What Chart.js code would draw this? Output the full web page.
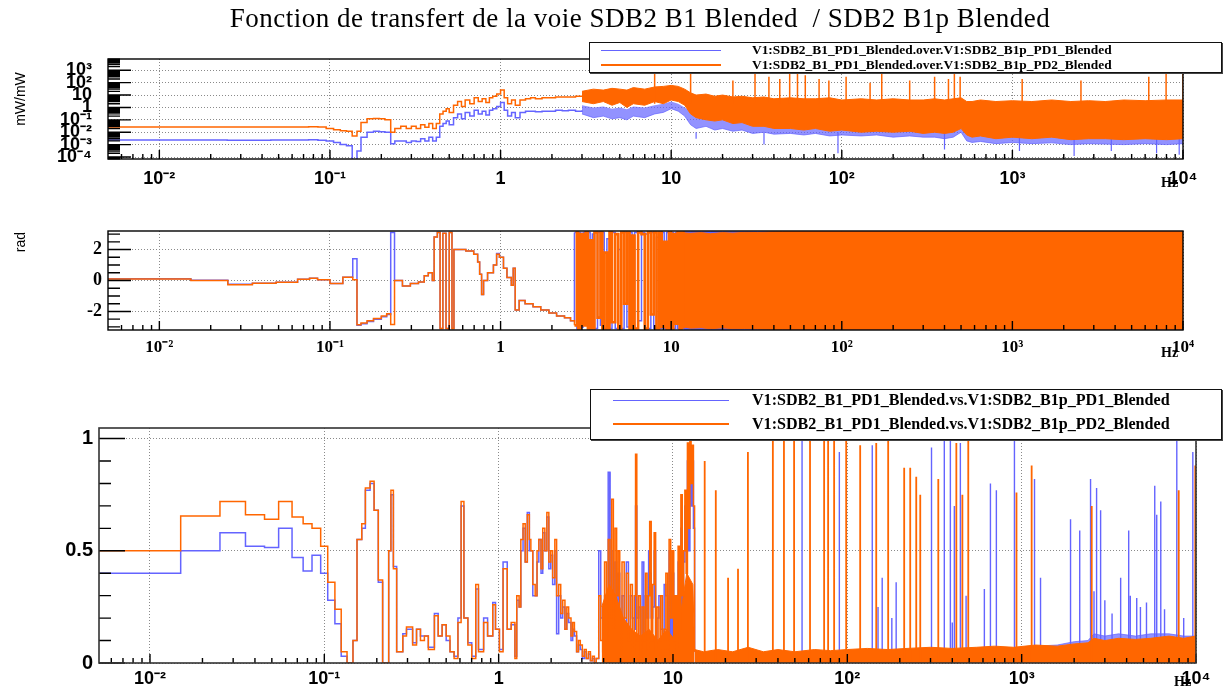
<!DOCTYPE html>
<html lang="fr">
<head>
<meta charset="utf-8">
<title>Fonction de transfert SDB2 B1 / SDB2 B1p</title>
<script src="https://cdn.jsdelivr.net/npm/chart.js@4.4.1/dist/chart.umd.min.js"></script>
<style>
  body { margin: 0; background: #fff; }
  #page { position: relative; width: 1225px; height: 698px; overflow: hidden; background: #fff; }
  canvas { position: absolute; left: 0; }
  .txt { position: absolute; white-space: pre; color: #000; }
  #titre { left: 0; top: 3px; width: 1280px; text-align: center; font: 27px "Liberation Serif", "DejaVu Serif", serif; letter-spacing: 0.5px; }
  .ytitre { width: 70px; height: 16px; line-height: 16px; text-align: center; font: 14px "Liberation Sans", Arial, sans-serif; transform: rotate(-90deg); }
  .hz { font: bold 14px "Liberation Serif", serif; }
  .legende { position: absolute; background: #fff; border: 1px solid #111; box-shadow: 1px 1px 0 #444; box-sizing: border-box; }
  .legende .trait { position: absolute; height: 0; }
  .legende .lbl { position: absolute; font-family: "Liberation Serif", serif; font-weight: bold; white-space: pre; }
</style>
</head>
<body>
<div id="page">
  <canvas id="gMag" width="1225" height="200" style="top:0"></canvas>
  <canvas id="gPhase" width="1225" height="170" style="top:200px"></canvas>
  <canvas id="gCoh" width="1225" height="328" style="top:370px"></canvas>
  <div id="titre" class="txt">Fonction de transfert de la voie SDB2 B1 Blended  / SDB2 B1p Blended</div>
  <div class="txt ytitre" style="left:-15px; top:91px">mW/mW</div>
  <div class="txt ytitre" style="left:-15px; top:234px">rad</div>
  <div class="txt hz" style="left:1161px; top:175px">Hz</div>
  <div class="txt hz" style="left:1161px; top:345px">Hz</div>
  <div class="txt hz" style="left:1174px; top:674px">Hz</div>
  <div id="leg1" class="legende" style="left:589px; top:42px; width:633px; height:31px"></div>
  <div id="leg3" class="legende" style="left:590px; top:389px; width:632px; height:51px"></div>
</div>

<script>
// ==========================================================
// DONNÉES
// ==========================================================

const bleu = '#6464ff';
const bleuVoile = 'rgba(100, 100, 255, 0.7)';
const orange = '#ff6600';

const magSeriesNames = ['V1:SDB2_B1_PD1_Blended.over.V1:SDB2_B1p_PD1_Blended', 'V1:SDB2_B1_PD1_Blended.over.V1:SDB2_B1p_PD2_Blended'];
const cohSeriesNames = ['V1:SDB2_B1_PD1_Blended.vs.V1:SDB2_B1p_PD1_Blended', 'V1:SDB2_B1_PD1_Blended.vs.V1:SDB2_B1p_PD2_Blended'];

const xTickVals = [0.01, 0.1, 1, 10, 100, 1000, 10000];
const xTickLabels = ['10⁻²', '10⁻¹', '1', '10', '10²', '10³', '10⁴'];
const magTickVals = [1e-4, 1e-3, 1e-2, 1e-1, 1, 10, 100, 1000];
const magTickLabels = ['10⁻⁴', '10⁻³', '10⁻²', '10⁻¹', '1', '10', '10²', '10³'];
const phaseTickVals = [-2, 0, 2];
const phaseTickLabels = ['-2', '0', '2'];
const cohTickVals = [0, 0.5, 1];
const cohTickLabels = ['0', '0.5', '1'];

// --- module (mW/mW), partie basse fréquence (valeur tenue jusqu'au point suivant)
const magLowFreq = [0.005, 0.015, 0.025, 0.035, 0.045, 0.055, 0.065, 0.075, 0.085, 0.095, 0.105, 0.115, 0.125, 0.135, 0.144, 0.152, 0.165, 0.18, 0.195, 0.21, 0.227, 0.24, 0.26, 0.28, 0.30, 0.32, 0.34, 0.36, 0.38, 0.40, 0.42, 0.44, 0.46, 0.48, 0.50, 0.53, 0.56, 0.59, 0.62, 0.66, 0.70, 0.74, 0.78, 0.82, 0.86, 0.90, 0.95, 1.0, 1.05, 1.1, 1.16, 1.22, 1.3, 1.4, 1.5, 1.6, 1.75, 1.9, 2.1, 2.3, 2.5, 2.75, 3.0];
const magPD2Low = [0.027, 0.027, 0.026, 0.026, 0.027, 0.027, 0.027, 0.028, 0.026, 0.02, 0.016, 0.013, 0.012, 0.005, 0.012, 0.06, 0.12, 0.13, 0.12, 0.1, 0.01, 0.02, 0.03, 0.02, 0.03, 0.02, 0.04, 0.025, 0.05, 0.02, 0.05, 0.3, 0.5, 0.8, 0.4, 1.5, 3, 1.2, 4, 2, 6, 3, 5, 2.5, 6, 8, 12, 25, 6, 2, 4, 1.5, 4, 5, 6, 5, 6, 6, 7, 7, 7, 8, 8];
const magPD1Low = [0.0024, 0.0024, 0.0023, 0.0023, 0.0024, 0.0024, 0.0024, 0.0025, 0.0023, 0.002, 0.0015, 0.001, 0.0008, 0.00005, 0.0003, 0.004, 0.01, 0.012, 0.011, 0.01, 0.0012, 0.002, 0.002, 0.0015, 0.002, 0.0018, 0.003, 0.002, 0.004, 0.002, 0.004, 0.03, 0.05, 0.08, 0.04, 0.15, 0.3, 0.12, 0.4, 0.2, 0.6, 0.3, 0.5, 0.25, 0.6, 0.8, 1.2, 2.5, 0.6, 0.2, 0.4, 0.15, 0.4, 0.5, 0.5, 0.45, 0.5, 0.5, 0.6, 0.55, 0.6, 0.5, 0.6];

// --- module, bande de bruit au-dessus de 3 Hz (enveloppes haute / basse)
const magBandFreq = [3, 3.5, 4, 4.5, 5, 5.5, 6, 7, 8, 9, 10, 11, 12, 13, 14, 16, 18, 20, 23, 26, 30, 35, 40, 50, 60, 70, 85, 100, 130, 160, 200, 250, 300, 350, 400, 450, 500, 540, 580, 650, 800, 1000, 1300, 1700, 2200, 2800, 3500, 4500, 6000, 8000, 10000];
const magPD2Haut = [20, 30, 25, 35, 30, 25, 40, 30, 45, 50, 60, 50, 30, 15, 10, 12, 8, 10, 7, 8, 6, 7, 5, 6, 5, 5, 6, 4, 5, 4, 5, 4, 4, 5, 4, 5, 6, 3, 3, 4, 3, 3.5, 3, 4, 3, 3.5, 3, 4, 3.5, 4, 4];
const magPD2Bas = [3, 2, 3, 1.5, 2.5, 1, 2, 1.5, 3, 2, 4, 3, 1.5, 0.3, 0.15, 0.1, 0.08, 0.1, 0.05, 0.06, 0.03, 0.03, 0.02, 0.02, 0.015, 0.02, 0.012, 0.015, 0.01, 0.012, 0.01, 0.012, 0.008, 0.01, 0.008, 0.01, 0.02, 0.006, 0.004, 0.005, 0.003, 0.004, 0.003, 0.004, 0.0025, 0.003, 0.003, 0.0025, 0.003, 0.0025, 0.003];
const magPD1Haut = [1.5, 1, 1.2, 0.8, 1, 0.7, 1.2, 1, 1.5, 2, 3, 2, 1, 0.5, 0.4, 0.5, 0.3, 0.4, 0.3, 0.3, 0.2, 0.3, 0.2, 0.2, 0.2, 0.15, 0.2, 0.15, 0.15, 0.12, 0.15, 0.12, 0.1, 0.12, 0.1, 0.12, 0.3, 0.1, 0.08, 0.08, 0.07, 0.08, 0.07, 0.08, 0.06, 0.07, 0.07, 0.06, 0.07, 0.06, 0.07];
const magPD1Bas = [0.3, 0.15, 0.2, 0.12, 0.15, 0.1, 0.2, 0.15, 0.3, 0.4, 0.8, 0.5, 0.2, 0.04, 0.02, 0.03, 0.015, 0.02, 0.012, 0.015, 0.008, 0.01, 0.007, 0.008, 0.006, 0.008, 0.005, 0.006, 0.005, 0.006, 0.004, 0.005, 0.004, 0.004, 0.003, 0.004, 0.01, 0.002, 0.0015, 0.0018, 0.0012, 0.0015, 0.0012, 0.0014, 0.001, 0.0012, 0.0011, 0.001, 0.0012, 0.001, 0.0012];

// --- module, raies
const magPicsFreq = [8, 13, 23, 31, 37.4, 43.3, 49.5, 55, 61.1, 73.6, 84, 106, 146.5, 171.5, 250, 350, 422, 457, 494, 1141, 2523, 6300, 7960, 10000];
const magPicsVal = [800, 500, 150, 1000, 300, 200, 2000, 700, 400, 200, 150, 300, 100, 1000, 150, 300, 200, 800, 300, 200, 150, 300, 2000, 5000];
const magCreuxFreq = [14, 35, 95, 400, 1100, 2300, 3800, 7000, 9500];
const magCreuxVal = [0.003, 0.001, 0.0002, 0.0004, 0.0003, 0.00012, 0.0003, 0.0002, 0.00015];

// --- phase (rad)
const phaseLowFreq = [0.005, 0.0153, 0.0252, 0.0351, 0.0483, 0.0646, 0.0759, 0.0846, 0.1, 0.119, 0.136, 0.144, 0.152, 0.165, 0.18, 0.2, 0.215, 0.227, 0.239, 0.266, 0.296, 0.33, 0.357, 0.377, 0.398, 0.408, 0.426, 0.442, 0.459, 0.479, 0.5, 0.519, 0.533, 0.562, 0.626, 0.696, 0.734, 0.754, 0.774, 0.795, 0.839, 0.908, 0.948, 0.984, 1.04, 1.09, 1.156, 1.186, 1.218, 1.285, 1.392, 1.55, 1.72, 1.92, 2.13, 2.37, 2.57, 2.71];
const phasePD2Low = [0.1, 0.0, -0.27, -0.17, -0.12, 0.08, 0.15, 0.05, -0.2, 0.21, 0.05, -2.86, -2.75, -2.6, -2.45, -2.3, -2.15, -2.85, 0.0, -0.35, -0.2, -0.1, 0.3, 0.5, 0.0, 2.82, 3.1, -3.1, 3.05, -3.1, 3.1, -3.1, 2.0, 2.0, 1.9, 1.7, 1.2, 0.4, -0.9, 0.0, 0.5, 1.0, 1.7, 1.5, 0.8, 0.2, -0.3, 0.8, -1.9, -1.3, -1.5, -1.7, -1.9, -2.1, -2.3, -2.4, -2.6, -2.9];
const phasePD1Low = [0.12, 0.02, -0.25, -0.17, -0.12, 0.08, 0.15, 0.05, -0.2, 0.21, 1.41, -2.9, -2.8, -2.65, -2.5, -2.35, -2.2, 3.1, 0.0, -0.35, -0.2, -0.1, 0.3, 0.5, 0.0, 2.82, 3.1, -3.1, 3.05, -3.1, 3.1, -3.1, 2.0, 2.0, 1.9, 1.7, 1.2, 0.4, -0.9, 0.0, 0.5, 1.0, 1.75, 1.5, 0.8, 0.2, -0.3, 0.8, -1.9, -1.3, -1.5, -1.7, -1.9, -2.1, -2.3, -2.4, -2.6, 3.1];
const phaseMidFreq = [2.8, 2.85, 2.95, 3.05, 3.15, 3.25, 3.35, 3.45, 3.55, 3.7, 3.85, 3.95, 4.05, 4.2, 4.35, 4.5, 4.7, 4.9, 5.1, 5.3, 5.5, 5.7, 5.9, 6.1, 6.4, 6.7, 7.0, 7.3, 7.6, 7.9, 8.2, 8.5, 8.8, 9.1, 9.4, 9.7, 10.0, 10.3, 10.6, 10.9, 11.2, 11.5, 11.8];
const phasePD2Mid = [3.1, -3.1, 3.0, -2.9, 3.1, -3.1, 2.6, -3.1, 3.1, -2.4, 3.1, -3.1, 1.8, -3.1, 3.1, -2.7, 3.0, -3.1, 3.1, -1.5, 3.1, -3.1, 2.9, -3.1, 3.1, 3.0, -3.1, 3.1, -2.2, 3.1, -3.1, 3.1, -3.0, 2.5, -3.1, 3.1, -3.1, 3.0, -2.8, 3.1, -3.1, 3.1, -3.1];
const phasePD1Mid = [-3.1, 3.1, -3.0, 3.1, -2.5, 3.1, -3.1, 3.0, -3.1, 3.1, -2.9, 3.1, -3.1, 2.7, -3.1, 3.1, -3.1, 2.0, -3.1, 3.1, -3.0, 3.1, -3.1, 3.1, -2.6, 3.1, 3.0, -3.1, 3.1, -3.1, 2.8, -3.1, 3.1, -3.1, 3.1, -2.9, 3.1, -3.1, 3.1, -3.1, 3.0, -3.1, 3.1];
const phaseBandFreq = [11.8, 13, 15, 17, 20, 23, 27, 32, 38, 45, 10000];
const phasePD2Haut = [3.08, 3.05, 3.1, 3.02, 3.1, 3.06, 3.12, 3.1, 3.14, 3.15, 3.15];
const phasePD2Bas = [-3.0, -3.08, -3.05, -3.12, -3.06, -3.12, -3.1, -3.13, -3.15, -3.15, -3.15];
const phasePD1Haut = [3.15, 3.15, 3.15, 3.15, 3.15, 3.15, 3.15, 3.15, 3.15, 3.15, 3.15];
const phasePD1Bas = [-3.15, -3.15, -3.15, -3.15, -3.15, -3.15, -3.15, -3.15, -3.15, -3.15, -3.15];

// --- cohérence
const cohLowFreq = [0.005, 0.015, 0.0252, 0.0353, 0.0454, 0.0547, 0.0653, 0.0756, 0.085, 0.0953, 0.1046, 0.115, 0.125, 0.135, 0.146, 0.154, 0.164, 0.172, 0.183, 0.193, 0.204, 0.216, 0.234, 0.241, 0.249, 0.26, 0.282, 0.296, 0.321, 0.338, 0.356, 0.375, 0.395, 0.428, 0.45, 0.474, 0.5, 0.526, 0.555, 0.584, 0.609, 0.632, 0.666, 0.701, 0.739, 0.766, 0.82, 0.864, 0.925, 0.959, 1.01, 1.06, 1.12, 1.18,
  1.24, 1.27, 1.31, 1.34, 1.38, 1.42, 1.46, 1.50, 1.53, 1.57, 1.62, 1.66, 1.70, 1.75, 1.79, 1.84, 1.89, 1.94, 1.99, 2.04, 2.10, 2.15, 2.21, 2.27, 2.33, 2.40, 2.46, 2.52, 2.60, 2.66, 2.72, 2.80, 2.87, 2.94, 3.02, 3.1, 3.18, 3.27, 3.36, 3.45, 3.54, 3.63, 3.75, 3.85];
const cohPD2Low = [0.5, 0.655, 0.72, 0.66, 0.64, 0.72, 0.65, 0.62, 0.6, 0.52, 0.36, 0.24, 0.05, 0.0, 0.1, 0.55, 0.62, 0.78, 0.81, 0.68, 0.37, 0.0, 0.5, 0.77, 0.42, 0.05, 0.12, 0.16, 0.08, 0.15, 0.1, 0.12, 0.06, 0.21, 0.12, 0.17, 0.12, 0.05, 0.02, 0.18, 0.72, 0.2, 0.08, 0.02, 0.35, 0.05, 0.18, 0.12, 0.26, 0.15, 0.05, 0.42, 0.15, 0.18,
  0.02, 0.3, 0.25, 0.55, 0.62, 0.45, 0.66, 0.55, 0.5, 0.35, 0.3, 0.5, 0.55, 0.42, 0.6, 0.5, 0.67, 0.45, 0.5, 0.38, 0.55, 0.3, 0.35, 0.22, 0.28, 0.15, 0.25, 0.2, 0.12, 0.18, 0.14, 0.05, 0.1, 0.08, 0.03, 0.06, 0.02, 0.05, 0.01, 0.03, 0.0, 0.02, 0.3, 0.1];
const cohPD1Low = [0.4, 0.5, 0.58, 0.52, 0.515, 0.6, 0.47, 0.41, 0.48, 0.4, 0.28, 0.175, 0.03, 0.0, 0.1, 0.55, 0.6, 0.77, 0.8, 0.68, 0.36, 0.0, 0.5, 0.75, 0.43, 0.05, 0.13, 0.15, 0.09, 0.15, 0.12, 0.12, 0.07, 0.22, 0.12, 0.17, 0.1, 0.05, 0.03, 0.2, 0.7, 0.2, 0.09, 0.03, 0.33, 0.06, 0.2, 0.12, 0.27, 0.15, 0.06, 0.45, 0.15, 0.17,
  0.03, 0.28, 0.25, 0.5, 0.6, 0.45, 0.67, 0.5, 0.5, 0.3, 0.3, 0.45, 0.55, 0.4, 0.58, 0.5, 0.65, 0.42, 0.48, 0.35, 0.5, 0.13, 0.3, 0.2, 0.25, 0.15, 0.22, 0.18, 0.1, 0.15, 0.12, 0.05, 0.08, 0.06, 0.02, 0.05, 0.02, 0.04, 0.01, 0.02, 0.0, 0.02, 0.5, 0.2];
const cohMidFreq = [3.95, 4.05, 4.15, 4.25, 4.35, 4.45, 4.55, 4.65, 4.75, 4.85, 4.95, 5.1, 5.25, 5.4, 5.55, 5.7, 5.85, 6.0, 6.1, 6.2, 6.35, 6.5, 6.65, 6.8, 6.95, 7.1, 7.25, 7.35, 7.5, 7.65, 7.8, 7.95, 8.1, 8.3, 8.5, 8.7, 8.9, 9.1, 9.3, 9.5, 9.7, 9.9, 10.1, 10.3, 10.5, 10.7, 10.9, 11.1, 11.3, 11.5, 11.7, 11.9, 12.1, 12.3, 12.5, 12.7, 12.9, 13.1, 13.3];
const cohPD2Mid = [0.05, 0.45, 0.1, 0.55, 0.2, 0.73, 0.15, 0.6, 0.3, 0.5, 0.05, 0.45, 0.2, 0.4, 0.1, 0.35, 0.05, 0.3, 0.93, 0.1, 0.3, 0.02, 0.25, 0.1, 0.4, 0.05, 0.3, 0.63, 0.1, 0.35, 0.58, 0.05, 0.25, 0.1, 0.3, 0.02, 0.15, 0.4, 0.05, 0.55, 0.2, 0.5, 0.1, 0.3, 0.05, 0.52, 0.15, 0.75, 0.3, 0.5, 0.77, 0.4, 0.98, 0.6, 1.0, 0.8, 0.97, 0.7, 0.05];
const cohPD1Mid = [0.1, 0.3, 0.2, 0.85, 0.1, 0.5, 0.3, 0.45, 0.15, 0.4, 0.2, 0.3, 0.1, 0.45, 0.05, 0.3, 0.2, 0.15, 0.7, 0.2, 0.25, 0.1, 0.45, 0.05, 0.3, 0.2, 0.5, 0.4, 0.2, 0.25, 0.5, 0.1, 0.2, 0.3, 0.15, 0.1, 0.35, 0.3, 0.1, 0.5, 0.1, 0.4, 0.2, 0.25, 0.1, 0.45, 0.2, 0.6, 0.2, 0.45, 0.7, 0.5, 0.9, 0.5, 0.95, 0.7, 0.9, 0.6, 0.05];
const cohMidBandFreq = [3.9, 4.3, 4.7, 5.2, 5.8, 6.5, 7.3, 8.2, 9.2, 10.3, 11.2, 12.0, 13.0, 13.3];
const cohMidBandHaut = [0.25, 0.35, 0.3, 0.2, 0.15, 0.12, 0.15, 0.1, 0.15, 0.1, 0.25, 0.4, 0.35, 0.06];
const cohBandFreq = [13.3, 15, 18, 22, 27, 33, 40, 50, 65, 80, 100, 130, 170, 220, 300, 400, 550, 700, 900, 1200, 1600, 2000, 2400, 2600, 3000, 3600, 4500, 5500, 7000, 8500, 10000];
const cohPD2Haut = [0.06, 0.05, 0.06, 0.05, 0.07, 0.05, 0.06, 0.05, 0.06, 0.055, 0.06, 0.065, 0.06, 0.065, 0.07, 0.065, 0.07, 0.075, 0.07, 0.08, 0.075, 0.085, 0.09, 0.11, 0.1, 0.11, 0.105, 0.11, 0.12, 0.11, 0.12];
const cohPD1Haut = [0.05, 0.04, 0.05, 0.04, 0.06, 0.04, 0.05, 0.04, 0.05, 0.05, 0.05, 0.06, 0.05, 0.06, 0.06, 0.06, 0.06, 0.07, 0.065, 0.075, 0.08, 0.095, 0.1, 0.13, 0.12, 0.13, 0.12, 0.13, 0.13, 0.12, 0.12];
const cohPicsFreqPD2 = [15.2, 17.6, 20.7, 23.6, 26.9, 37.4, 43.3, 49.5, 61.1, 73.6, 77.6, 84.0, 98.5, 118.5, 146.5, 171.5, 211.9, 229.5, 248.5, 262, 332.5, 422, 457, 494, 934, 1141, 2523, 7960, 9900];
const cohPicsValPD2 = [0.9, 0.77, 0.38, 0.42, 0.94, 1.0, 1.0, 1.0, 1.0, 1.0, 1.0, 1.0, 1.0, 0.97, 0.98, 1.0, 0.87, 0.87, 0.83, 0.75, 0.82, 0.98, 0.75, 1.0, 0.76, 0.88, 0.7, 0.77, 0.88];
const cohPicsFreqPD1 = [4.34, 55.0, 90.0, 139, 150, 158.5, 180, 190.6, 304, 360, 390, 400, 411, 445, 480, 611, 662, 716, 909, 1185, 1283, 1907, 2153, 2484, 2600, 2690, 2837, 3000, 3300, 3697, 4111, 4200, 4571, 4800, 5200, 5799, 5953, 6280, 6600, 7760, 8500, 9590];
const cohPicsValPD1 = [0.85, 1.0, 0.94, 0.97, 0.25, 0.38, 0.2, 0.36, 0.96, 1.0, 0.99, 0.18, 0.7, 0.98, 0.3, 0.33, 0.8, 0.77, 0.99, 0.82, 0.38, 0.64, 0.59, 0.82, 0.32, 0.78, 0.68, 0.28, 0.22, 0.38, 0.59, 0.3, 0.29, 0.25, 0.27, 0.79, 0.66, 0.72, 0.24, 1.0, 0.2, 0.94];

// ==========================================================
// OUTILS
// ==========================================================

const pts = (fs, vs) => fs.map((f, i) => ({ x: f, y: vs[i] }));
const pics = (fs, vs, base) => fs.flatMap((f, i) => [{ x: f, y: base }, { x: f, y: vs[i] }, { x: f, y: null }]);

function trace(data, couleur, extra) {
  return Object.assign({ data, borderColor: couleur, backgroundColor: couleur, borderWidth: 1.5, pointRadius: 0, fill: false, spanGaps: false }, extra);
}

function mineursLog(lo, hi) {
  const out = [];
  for (let e = Math.floor(Math.log10(lo)); e <= Math.ceil(Math.log10(hi)); e++) {
    for (let k = 2; k <= 9; k++) {
      const v = k * Math.pow(10, e);
      if (v > lo && v < hi) out.push(v);
    }
  }
  return out;
}

function mineursLin(lo, hi, pas) {
  const out = [];
  for (let v = Math.ceil(lo / pas) * pas; v < hi; v += pas) out.push(+v.toFixed(6));
  return out;
}

// cadre et graduations intérieures façon ROOT
const cadre = {
  id: 'cadre',
  afterDatasetsDraw(chart, args, o) {
    const { ctx, chartArea: a, scales: { x, y } } = chart;
    ctx.save();
    ctx.strokeStyle = '#000';
    ctx.lineWidth = 1.4;
    ctx.beginPath();
    const trY = (vals, len) => vals.forEach(v => {
      const p = y.getPixelForValue(v);
      if (p < a.top || p > a.bottom) return;
      ctx.moveTo(a.left, p); ctx.lineTo(a.left + len, p);
    });
    const trX = (vals, len) => vals.forEach(v => {
      const p = x.getPixelForValue(v);
      if (p < a.left || p > a.right) return;
      ctx.moveTo(p, a.bottom); ctx.lineTo(p, a.bottom - len);
    });
    trY(o.yMaj, o.yMajLen);
    trY(o.yMin, o.yMinLen);
    trX(xTickVals, 9);
    trX(mineursLog(o.xMin, 10000), 5);
    ctx.stroke();
    ctx.lineWidth = o.cadreLargeur;
    ctx.strokeStyle = o.cadreCouleur;
    ctx.strokeRect(a.left, a.top, a.right - a.left, a.bottom - a.top);
    ctx.restore();
  }
};

function creerGraphe(id, o) {
  return new Chart(document.getElementById(id), {
    type: 'line',
    data: { datasets: o.datasets },
    options: {
      responsive: false,
      animation: false,
      events: [],
      layout: { padding: o.padding },
      plugins: { legend: { display: false }, tooltip: { enabled: false }, cadre: o.cadre },
      scales: {
        x: {
          type: 'logarithmic', min: o.cadre.xMin, max: 10000,
          afterBuildTicks: s => { s.ticks = xTickVals.map(v => ({ value: v })); },
          afterFit: s => { s.height = o.xHauteur; },
          ticks: { autoSkip: false, maxRotation: 0, padding: o.xPad, color: '#000', font: o.xFont, callback: (v, i) => xTickLabels[i] },
          grid: { color: '#8a8a8a', lineWidth: 1, drawTicks: false },
          border: { display: false, dash: [1, 2] }
        },
        y: {
          type: o.yType, min: o.yMin, max: o.yMax,
          afterBuildTicks: s => { s.ticks = o.yTicks.map(v => ({ value: v })); },
          afterFit: s => { s.width = o.yLargeur; },
          ticks: { autoSkip: false, padding: o.yPad, color: '#000', font: o.yFont, callback: (v, i) => o.yLabels[i] },
          grid: { color: '#8a8a8a', lineWidth: 1, drawTicks: false },
          border: { display: false, dash: [1, 2] }
        }
      }
    },
    plugins: [cadre]
  });
}

function remplirLegende(id, noms, o) {
  const box = document.getElementById(id);
  noms.forEach((nom, i) => {
    const yc = o.lignes[i];
    const t = document.createElement('div');
    t.className = 'trait';
    t.style.cssText = `left:${o.traitX0}px; width:${o.traitX1 - o.traitX0}px; top:${yc - o.epais[i] / 2}px; border-top:${o.epais[i]}px solid ${o.couleurs[i]}`;
    box.appendChild(t);
    const l = document.createElement('div');
    l.className = 'lbl';
    l.textContent = nom;
    l.style.cssText = `left:${o.texteX}px; top:${yc - o.taille * 0.6}px; font-size:${o.taille}px; line-height:${o.taille * 1.2}px`;
    box.appendChild(l);
  });
}

// ==========================================================
// GRAPHES
// ==========================================================

window.addEventListener('load', () => {
  const sans = (t) => ({ family: 'Liberation Sans', size: t, weight: 'bold' });
  const serif = (t) => ({ family: 'Liberation Serif', size: t, weight: 'bold' });

  // module
  creerGraphe('gMag', {
    padding: { top: 59, right: 42, left: 0, bottom: 0 },
    xHauteur: 41, yLargeur: 108, xPad: 9, yPad: 16,
    xFont: sans(18), yFont: sans(18),
    yType: 'logarithmic', yMin: 6.9e-5, yMax: 8130,
    yTicks: magTickVals, yLabels: magTickLabels,
    cadre: { xMin: 0.005, yMaj: magTickVals, yMajLen: 23, yMin: mineursLog(6.9e-5, 8130), yMinLen: 12, cadreLargeur: 1.4, cadreCouleur: '#000' },
    datasets: [
      trace(pts(magLowFreq, magPD2Low), orange, { stepped: 'before', order: 1 }),
      trace(pics(magPicsFreq, magPicsVal, 2), orange, { order: 2 }),
      trace(pts(magBandFreq, magPD2Haut), orange, { fill: '+1', borderWidth: 1, order: 3 }),
      trace(pts(magBandFreq, magPD2Bas), orange, { borderWidth: 1, order: 3 }),
      trace(pts(magLowFreq, magPD1Low), bleu, { stepped: 'before', order: 10 }),
      trace(pics(magCreuxFreq, magCreuxVal, 0.01), bleu, { borderWidth: 1.2, order: 11 }),
      trace(pts(magBandFreq, magPD1Haut), bleuVoile, { fill: '+1', borderWidth: 0, order: 12 }),
      trace(pts(magBandFreq, magPD1Bas), bleuVoile, { borderWidth: 1, order: 12 })
    ]
  });

  // phase
  const finPD2 = phasePD2Low[phasePD2Low.length - 1];
  const finPD1 = phasePD1Low[phasePD1Low.length - 1];
  const finF = phaseLowFreq[phaseLowFreq.length - 1];
  creerGraphe('gPhase', {
    padding: { top: 31, right: 42, left: 0, bottom: 0 },
    xHauteur: 40, yLargeur: 108, xPad: 7, yPad: 6,
    xFont: serif(17), yFont: serif(18),
    yType: 'linear', yMin: -3.2, yMax: 3.2,
    yTicks: phaseTickVals, yLabels: phaseTickLabels,
    cadre: { xMin: 0.005, yMaj: phaseTickVals, yMajLen: 23, yMin: mineursLin(-3.2, 3.2, 0.5), yMinLen: 12, cadreLargeur: 1.4, cadreCouleur: '#000' },
    datasets: [
      trace(pts(phaseLowFreq, phasePD2Low), orange, { stepped: 'before', order: 1 }),
      trace(pts([finF, ...phaseMidFreq], [finPD2, ...phasePD2Mid]), orange, { stepped: 'before', borderWidth: 2.6, order: 1 }),
      trace(pts(phaseBandFreq, phasePD2Haut), orange, { fill: '+1', borderWidth: 1, order: 2 }),
      trace(pts(phaseBandFreq, phasePD2Bas), orange, { borderWidth: 1, order: 2 }),
      trace(pts(phaseLowFreq, phasePD1Low), bleu, { stepped: 'before', order: 10 }),
      trace(pts([finF, ...phaseMidFreq], [finPD1, ...phasePD1Mid]), bleu, { stepped: 'before', order: 10 }),
      trace(pts(phaseBandFreq, phasePD1Haut), bleu, { fill: '+1', borderWidth: 1, order: 11 }),
      trace(pts(phaseBandFreq, phasePD1Bas), bleu, { borderWidth: 1, order: 11 })
    ]
  });

  // cohérence
  creerGraphe('gCoh', {
    padding: { top: 58, right: 29, left: 0, bottom: 0 },
    xHauteur: 35, yLargeur: 99, xPad: 5, yPad: 6,
    xFont: sans(18), yFont: sans(20),
    yType: 'linear', yMin: 0, yMax: 1.047,
    yTicks: cohTickVals, yLabels: cohTickLabels,
    cadre: { xMin: 0.0051, yMaj: cohTickVals, yMajLen: 26, yMin: mineursLin(0, 1.047, 0.1), yMinLen: 12, cadreLargeur: 1.6, cadreCouleur: '#333' },
    datasets: [
      trace(pts([...cohLowFreq, ...cohMidFreq], [...cohPD2Low, ...cohPD2Mid]), orange, { stepped: 'before', order: 1 }),
      trace(pics(cohPicsFreqPD2, cohPicsValPD2, 0), orange, { borderWidth: 1.8, order: 2 }),
      trace(pts(cohMidBandFreq, cohMidBandHaut), orange, { fill: 'origin', borderWidth: 1, order: 3 }),
      trace(pts(cohBandFreq, cohPD2Haut), orange, { fill: 'origin', borderWidth: 1, order: 3 }),
      trace(pts([...cohLowFreq, ...cohMidFreq], [...cohPD1Low, ...cohPD1Mid]), bleu, { stepped: 'before', order: 10 }),
      trace(pics(cohPicsFreqPD1, cohPicsValPD1, 0), bleu, { borderWidth: 1.4, order: 11 }),
      trace(pts(cohBandFreq, cohPD1Haut), bleuVoile, { fill: 'origin', borderWidth: 1, order: 12 })
    ]
  });

  remplirLegende('leg1', magSeriesNames, { lignes: [7, 22], traitX0: 11, traitX1: 131, texteX: 162, taille: 13.4, couleurs: [bleu, orange], epais: [1, 2] });
  remplirLegende('leg3', cohSeriesNames, { lignes: [10, 34], traitX0: 22, traitX1: 138, texteX: 161, taille: 16.1, couleurs: [bleu, orange], epais: [1, 2] });
});
</script>
</body>
</html>
